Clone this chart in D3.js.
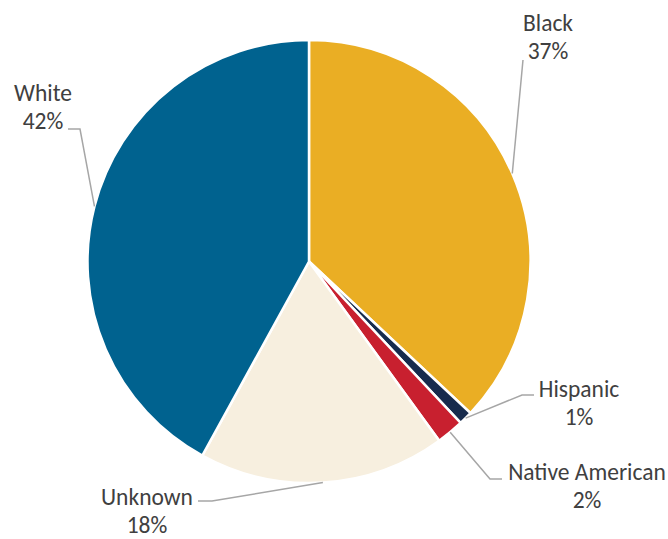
<!DOCTYPE html>
<html>
<head>
<meta charset="utf-8">
<script src="https://cdn.jsdelivr.net/npm/d3@7"></script>
<style>
  html, body { margin: 0; padding: 0; background: #fff; }
  svg { display: block; }
  text { font-family: Carlito, Calibri, Lato, "Open Sans", sans-serif; fill: #404040; }
</style>
</head>
<body>
<svg id="chart" width="668" height="539"></svg>
<script>
// Share of cases by race (percent), clockwise from 12 o'clock
const categories = ["Black", "Hispanic", "Native American", "Unknown", "White"];
const shares = [37, 1, 2, 18, 42];
const colors = ["#EAAE24", "#172B4D", "#C8202F", "#F7EFDF", "#00628F"];

// Label placement: text centre / first baseline and the elbow of each leader line
const labelLayout = {
  "Black":           { x: 548, y: 31,  knee: [523, 60],  end: [523, 60] },
  "Hispanic":        { x: 579, y: 397, knee: [522, 395], end: [534, 395] },
  "Native American": { x: 587, y: 480, knee: [490, 479], end: [502, 479] },
  "Unknown":         { x: 147, y: 505, knee: [212, 501], end: [198, 501] },
  "White":           { x: 43,  y: 101, knee: [80, 129],  end: [68, 129] }
};

const svg = d3.select("#chart");
const cx = 309, cy = 261.5, radius = 221.5;

const data = categories.map((c, i) => ({ name: c, value: shares[i], color: colors[i] }));

const pie = d3.pie().sort(null).value(d => d.value);
const arcs = pie(data);

const arc = d3.arc().innerRadius(0).outerRadius(radius);
const edgeArc = d3.arc().innerRadius(radius).outerRadius(radius);

const g = svg.append("g").attr("transform", `translate(${cx},${cy})`);

g.selectAll("path.slice")
  .data(arcs)
  .join("path")
  .attr("class", "slice")
  .attr("d", arc)
  .attr("fill", d => d.data.color)
  .attr("stroke", "#fff")
  .attr("stroke-width", 2.5)
  .attr("stroke-linejoin", "miter");

// Leader lines from the slice's outer edge to its label
const line = d3.line();
svg.selectAll("path.leader")
  .data(arcs)
  .join("path")
  .attr("class", "leader")
  .attr("d", d => {
    const L = labelLayout[d.data.name];
    const [ex, ey] = edgeArc.centroid(d);
    return line([[cx + ex, cy + ey], L.knee, L.end]);
  })
  .attr("fill", "none")
  .attr("stroke", "#A6A6A6")
  .attr("stroke-width", 1.5);

// Two-line labels: category name and percentage
const labels = svg.selectAll("text.label")
  .data(arcs)
  .join("text")
  .attr("class", "label")
  .attr("text-anchor", "middle")
  .attr("font-size", 23.5)
  .attr("x", d => labelLayout[d.data.name].x)
  .attr("y", d => labelLayout[d.data.name].y);

labels.append("tspan")
  .attr("x", d => labelLayout[d.data.name].x)
  .text(d => d.data.name);
labels.append("tspan")
  .attr("x", d => labelLayout[d.data.name].x)
  .attr("dy", 27.5)
  .text(d => d3.format(".0f")(d.data.value) + "%");
</script>
</body>
</html>
